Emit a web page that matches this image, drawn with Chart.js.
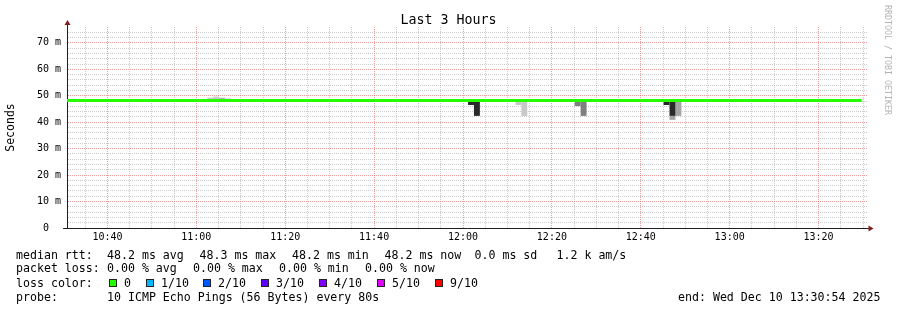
<!DOCTYPE html>
<html><head><meta charset="utf-8">
<script src="https://cdn.jsdelivr.net/npm/chart.js@4"></script>
<style>
html,body{margin:0;padding:0;background:#fff;}
#wrap{position:relative;width:897px;height:310px;overflow:hidden;font-family:'DejaVu Sans Mono',monospace;}
canvas{position:absolute;left:0;top:0;}
.t{position:absolute;white-space:pre;font-size:11.6px;line-height:14px;color:#000;}
.box{position:absolute;width:6px;height:6px;border:1px solid #222;}
#wm{position:absolute;left:883px;top:5px;writing-mode:vertical-rl;font-size:8.3px;line-height:10px;color:#b4b4b4;white-space:pre;}
</style></head>
<body><div id="wrap"><canvas id="c" width="897" height="310"></canvas><div id="legend"></div><div id="wm">RRDTOOL / TOBI OETIKER</div></div>
<script>
// ---------- data ----------
const chartTitle = 'Last 3 Hours';
const yTitle = 'Seconds';
const startMin = 630.9;   // 10:30:54 (minute of day)
const endMin = 810.9;     // 13:30:54
const yMax = 76;          // ms
const xTickMinutes = [635,640,645,650,655,660,665,670,675,680,685,690,695,700,705,710,715,720,725,730,735,740,745,750,755,760,765,770,775,780,785,790,795,800,805,810];
const xLabelMinutes = [640,660,680,700,720,740,760,780,800];
const yTickValues = [0,2,4,6,8,10,12,14,16,18,20,22,24,26,28,30,32,34,36,38,40,42,44,46,48,50,52,54,56,58,60,62,64,66,68,70,72,74];
const yLabelValues = [0,10,20,30,40,50,60,70];

// median rtt (ms)
const medianTimes = [630.9, 809.7];
const medianValues = [48.2, 48.2];

// smoke (ping spread), per shade: time, low, high (ms)
const lightTimes = [645.80, 652.47, 663.13, 664.47, 665.80, 667.13, 707.13, 725.80, 732.47, 733.80];
const lightLow   = [48.2, 48.2, 48.2, 48.2, 48.2, 48.2, 48.2, 48.2, 46.5, 42.4];
const lightHigh  = [48.8, 48.8, 49.3, 49.7, 49.3, 49.0, 48.8, 48.8, 47.7, 47.7];
const greyTimes  = [767.13, 768.47];
const greyLow    = [40.9, 42.4];
const greyHigh   = [42.4, 47.7];
const mediumTimes = [665.80, 745.80, 747.13];
const mediumLow   = [48.2, 46.1, 42.4];
const mediumHigh  = [48.9, 47.7, 47.7];
const darkTimes = [721.80, 723.13, 765.80, 767.13];
const darkLow   = [46.5, 42.4, 46.5, 42.4];
const darkHigh  = [47.7, 47.7, 47.7, 47.7];

// legend text pieces
const statsLabel = 'median rtt:';
const statsPieces = ['48.2 ms avg','48.3 ms max','48.2 ms min','48.2 ms now','0.0 ms sd','1.2 k am/s'];
const lossLabel = 'packet loss:';
const lossPieces = ['0.00 % avg','0.00 % max','0.00 % min','0.00 % now'];
const colorLabel = 'loss color:';
const lossLabels = ['0','1/10','2/10','3/10','4/10','5/10','9/10'];
const lossColors = ['#26ff00','#00b8ff','#0059ff','#5e00ff','#7e00ff','#dd00ff','#ff0000'];
const probeLabel = 'probe:';
const probeText = '10 ICMP Echo Pings (56 Bytes) every 80s';
const endText = 'end: Wed Dec 10 13:30:54 2025';

// ---------- legend (HTML text) ----------
const lg = document.getElementById('legend');
function addText(txt, x, y){ const d=document.createElement('div'); d.className='t'; d.style.left=x+'px'; d.style.top=y+'px'; d.textContent=txt; lg.appendChild(d); }
const rowTop = [247.5, 261.3, 275.5, 289.5];
const statsX = [107, 199.5, 292, 384.5, 474.5, 556.5];
const lossX = [107, 193, 279, 365];
const boxX = [109,146,203,261,319,377,435];
addText(statsLabel, 16, rowTop[0]);
statsPieces.forEach((p,i)=>addText(p, statsX[i], rowTop[0]));
addText(lossLabel, 16, rowTop[1]);
lossPieces.forEach((p,i)=>addText(p, lossX[i], rowTop[1]));
addText(colorLabel, 16, rowTop[2]);
lossLabels.forEach((l,i)=>{
  const b=document.createElement('div'); b.className='box'; b.style.left=boxX[i]+'px'; b.style.top='279px'; b.style.background=lossColors[i]; lg.appendChild(b);
  addText(l, boxX[i]+15, rowTop[2]);
});
addText(probeLabel, 16, rowTop[3]);
addText(probeText, 107, rowTop[3]);
addText(endText, 678, rowTop[3]);

// ---------- chart ----------
Chart.defaults.font.family = "'DejaVu Sans Mono', monospace";
Chart.defaults.color = '#000';

function pts(t, lo, hi){ return t.map((x,i)=>({x:x, y:[lo[i], hi[i]]})); }
function fmt(m){ const h=Math.floor(m/60), mm=Math.round(m%60); return h+':'+String(mm).padStart(2,'0'); }

const barCommon = {type:'bar', grouped:false, barPercentage:2, categoryPercentage:1, maxBarThickness:5.93, borderWidth:0};
const MAJOR = 'rgba(222,79,79,0.55)';
const MINOR = 'rgba(143,143,143,0.45)';

const axisDecor = {
  id:'axisDecor',
  afterDraw(chart){
    const {ctx, chartArea:a} = chart;
    ctx.save();
    ctx.strokeStyle='rgb(31,31,31)'; ctx.lineWidth=1;
    ctx.beginPath();
    ctx.moveTo(a.left+0.5, a.top-3); ctx.lineTo(a.left+0.5, a.top+1);
    ctx.moveTo(a.left-4, a.bottom+0.5); ctx.lineTo(a.left, a.bottom+0.5);
    ctx.moveTo(a.right-1, a.bottom+0.5); ctx.lineTo(a.right+2, a.bottom+0.5);
    ctx.stroke();
    ctx.fillStyle='rgb(128,31,31)';
    ctx.beginPath(); ctx.moveTo(a.left+0.5, a.top-7); ctx.lineTo(a.left-2.5, a.top-2); ctx.lineTo(a.left+3.5, a.top-2); ctx.closePath(); ctx.fill();
    ctx.beginPath(); ctx.moveTo(a.right+6.5, a.bottom+0.5); ctx.lineTo(a.right+1.5, a.bottom-2.5); ctx.lineTo(a.right+1.5, a.bottom+3.5); ctx.closePath(); ctx.fill();
    ctx.restore();
  }
};

new Chart(document.getElementById('c'), {
  type:'bar',
  data:{datasets:[
    {type:'line', data:medianTimes.map((t,i)=>({x:t,y:medianValues[i]})), borderColor:'#26ff00', borderWidth:3, pointRadius:0, fill:false, tension:0, order:0},
    Object.assign({data:pts(darkTimes,darkLow,darkHigh), backgroundColor:'#2a2a2a', order:1}, barCommon),
    Object.assign({data:pts(mediumTimes,mediumLow,mediumHigh), backgroundColor:'#7f7f7f', order:2}, barCommon),
    Object.assign({data:pts(greyTimes,greyLow,greyHigh), backgroundColor:'#a4a4a4', order:3}, barCommon),
    Object.assign({data:pts(lightTimes,lightLow,lightHigh), backgroundColor:'#c8c8c8', order:4}, barCommon)
  ]},
  options:{
    responsive:false, animation:false, events:[],
    layout:{padding:{left:0,right:0,top:0,bottom:62}},
    plugins:{
      legend:{display:false}, tooltip:{enabled:false},
      title:{display:true, text:chartTitle, font:{size:13.3, weight:'normal', lineHeight:1.0}, color:'#000', padding:{top:13.7,bottom:0}}
    },
    scales:{
      x:{type:'linear', min:startMin, max:endMin, offset:false,
        afterBuildTicks(s){ s.ticks = xTickMinutes.map(v=>({value:v})); },
        afterFit(s){ s.height = 20; },
        ticks:{autoSkip:false, maxRotation:0, padding:3, font:{size:10}, color:'#000',
          callback(v){ return xLabelMinutes.includes(v) ? fmt(v) : ''; }},
        grid:{offset:false, drawTicks:false, lineWidth:1,
          color(c){ return (c.tick && xLabelMinutes.includes(c.tick.value)) ? MAJOR : MINOR; }},
        border:{display:true, color:'rgb(31,31,31)', width:1, dash:[1,1]}
      },
      y:{type:'linear', min:0, max:yMax,
        afterBuildTicks(s){ s.ticks = yTickValues.map(v=>({value:v})); },
        afterFit(s){ s.width = 67; },
        ticks:{autoSkip:false, padding:6, font:{size:10}, color:'#000',
          callback(v){ return yLabelValues.includes(v) ? (v===0 ? '0  ' : v+' m') : ''; }},
        grid:{drawTicks:false, lineWidth:1,
          color(c){ return (c.tick && yLabelValues.includes(c.tick.value)) ? MAJOR : MINOR; }},
        border:{display:true, color:'rgb(31,31,31)', width:1, dash:[1,1]},
        title:{display:true, text:yTitle, font:{size:11.5}, color:'#000', padding:{top:4,bottom:0}}
      },
      ySpace:{type:'linear', position:'right', display:true,
        afterFit(s){ s.width = 30; },
        ticks:{display:false}, grid:{display:false, drawOnChartArea:false}, border:{display:false}
      }
    }
  },
  plugins:[axisDecor]
});
</script>
</body></html>
